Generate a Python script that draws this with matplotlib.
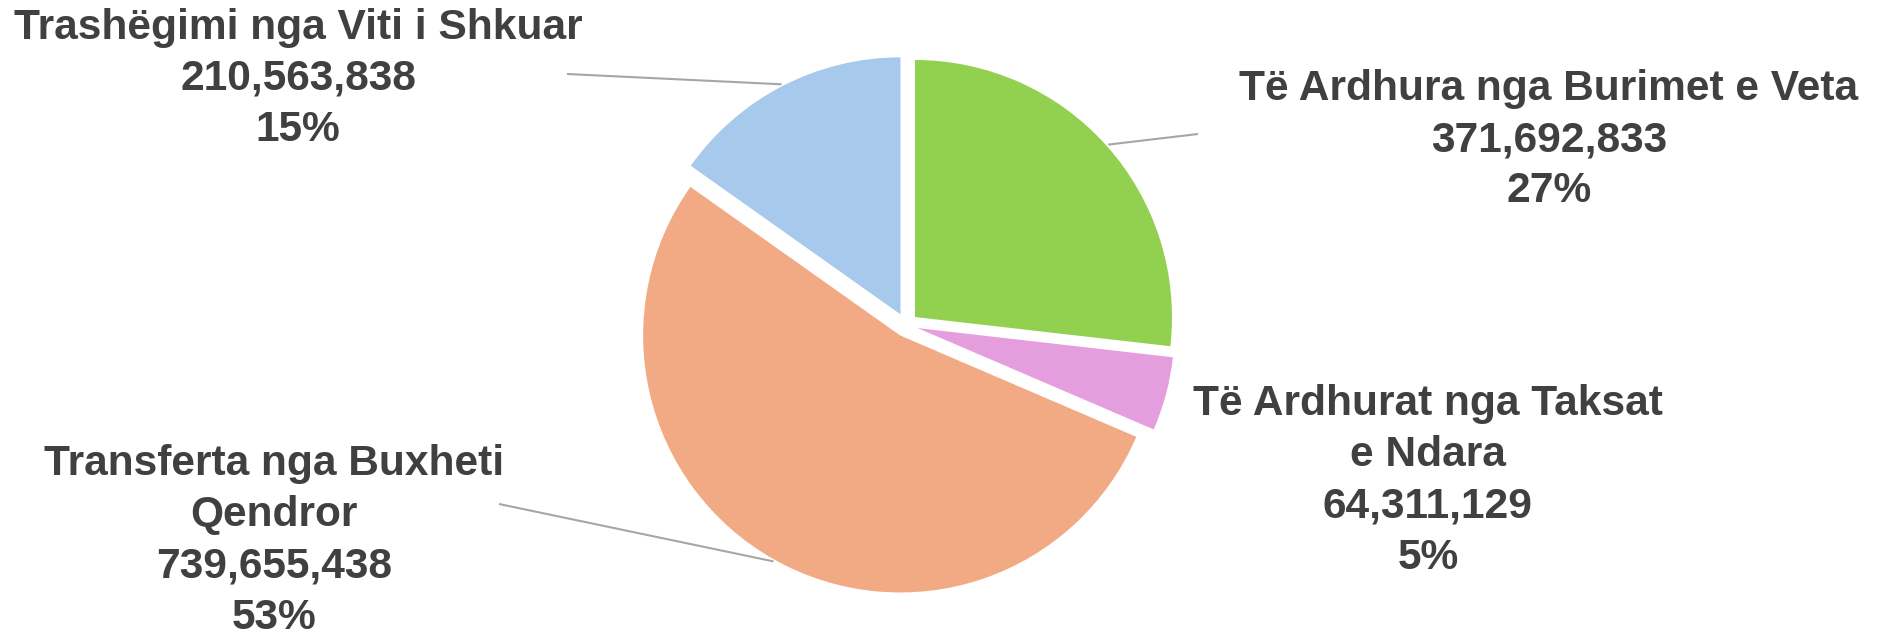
import numpy as np
import matplotlib
matplotlib.use("Agg")
import matplotlib.pyplot as plt

categories = ["Të Ardhura nga Burimet e Veta", "Të Ardhurat nga Taksat\ne Ndara",
              "Transferta nga Buxheti\nQendror", "Trashëgimi nga Viti i Shkuar"]
values = [371692833, 64311129, 739655438, 210563838]
colors = ["#92D050", "#E59EDD", "#F1AA84", "#A7C9EB"]

W, H = 1882, 635
fig = plt.figure(figsize=(W / 100, H / 100), dpi=100)
ax = fig.add_axes([0, 0, 1, 1])

cx, cy, R = 906, 310, 257
gap = 12
wedges, _ = ax.pie(values, colors=colors, startangle=90, counterclock=False,
                   center=(cx, cy), radius=R, explode=[gap] * len(values),
                   wedgeprops=dict(linewidth=0),
                   frame=True)
ax.set_xlim(0, W)
ax.set_ylim(0, H)
ax.set_aspect("equal")
ax.axis("off")

total = sum(values)
# label block center (x, y) and leader line text-side end
label_pos = [(1549, 495, (1198, 501)),
             (1428, 154, None),
             (274, 94, (499, 131)),
             (298, 556, (567, 561))]
fs = 30.6
tc = "#404040"
for w, cat, v, (tx, ty, lead) in zip(wedges, categories, values, label_pos):
    pct = round(100 * v / total)
    txt = f"{cat}\n{v:,}\n{pct}%"
    ax.text(tx, ty, txt, ha="center", va="center", fontsize=fs, fontweight="bold",
            color=tc, family="Liberation Sans", linespacing=1.36)
    if lead is not None:
        ang = np.deg2rad((w.theta1 + w.theta2) / 2)
        rr = R + gap + 2
        ex = cx + rr * np.cos(ang)
        ey = cy + rr * np.sin(ang)
        ax.plot([lead[0], ex], [lead[1], ey], color="#A6A6A6", lw=1.5,
                solid_capstyle="butt", zorder=0)

fig.savefig("out.png", dpi=100, facecolor="white")
